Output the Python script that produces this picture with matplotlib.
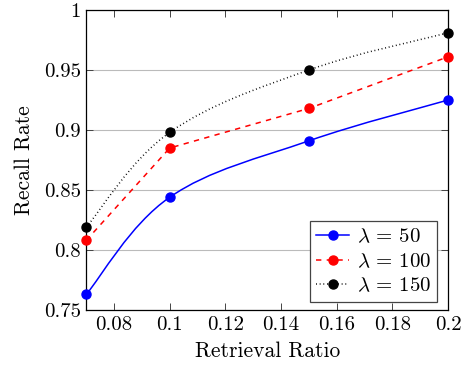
import matplotlib
matplotlib.use('Agg')
import matplotlib.pyplot as plt
import numpy as np
from matplotlib.path import Path
from matplotlib.patches import PathPatch

plt.rcParams['font.family'] = 'serif'
plt.rcParams['font.serif'] = ['cmr10']
plt.rcParams['mathtext.fontset'] = 'cm'
plt.rcParams['axes.formatter.use_mathtext'] = True

# data
ratio = [0.07, 0.1, 0.15, 0.2]
recall_50 = [0.763, 0.844, 0.891, 0.925]
recall_100 = [0.808, 0.885, 0.918, 0.961]
recall_150 = [0.819, 0.898, 0.950, 0.981]


def smooth_path(x, y, tension=0.18):
    '''Bezier path through the points, similar to pgfplots "smooth".'''
    pts = np.column_stack([x, y])
    n = len(pts)
    verts = [pts[0]]
    codes = [Path.MOVETO]
    for i in range(n - 1):
        p0, p1 = pts[i], pts[i + 1]
        prev_ = pts[i - 1] if i > 0 else p0
        next_ = pts[i + 2] if i + 2 < n else p1
        c1 = p0 + tension * (p1 - prev_)
        c2 = p1 - tension * (next_ - p0)
        verts += [c1, c2, p1]
        codes += [Path.CURVE4] * 3
    return Path(verts, codes)


fig, ax = plt.subplots(figsize=(4.61, 3.70), dpi=100)
fig.subplots_adjust(left=0.187, right=0.972, top=0.973, bottom=0.162)

series = [
    (recall_50, 'blue', '-', r'$\lambda\, =\, 50$', True),
    (recall_100, 'red', (0, (3.5, 3.5)), r'$\lambda\, =\, 100$', False),
    (recall_150, 'black', (0, (0.6, 1.8)), r'$\lambda\, =\, 150$', True),
]

for values, color, ls, label, smooth in series:
    if smooth:
        patch = PathPatch(smooth_path(ratio, values), fill=False,
                          edgecolor=color, linestyle=ls, lw=1.1,
                          zorder=3, clip_on=False)
        ax.add_patch(patch)
        ax.plot(ratio, values, linestyle='none', color=color, marker='o',
                markersize=6.5, zorder=4, clip_on=False)
    else:
        ax.plot(ratio, values, linestyle=ls, color=color, lw=1.1,
                marker='o', markersize=6.5, zorder=4, clip_on=False)

# legend handles (line + marker)
handles = [plt.Line2D([], [], color=c, linestyle=ls, lw=1.1, marker='o',
                      markersize=6.5) for _, c, ls, _, _ in series]
labels = [s[3] for s in series]
leg = ax.legend(handles, labels, loc='lower right', fontsize=15,
                frameon=True, fancybox=False, edgecolor='#444444',
                framealpha=1, handlelength=1.6, handletextpad=0.35,
                borderpad=0.3, labelspacing=0.3, borderaxespad=0,
                bbox_to_anchor=(0.97, 0.027))
leg.get_frame().set_linewidth(0.9)

ax.set_xlim(0.07, 0.2)
ax.set_ylim(0.75, 1.0)
ax.set_xticks([0.08, 0.1, 0.12, 0.14, 0.16, 0.18, 0.2])
ax.set_xticklabels(['0.08', '0.1', '0.12', '0.14', '0.16', '0.18', '0.2'])
ax.set_yticks([0.75, 0.8, 0.85, 0.9, 0.95, 1.0])
ax.set_yticklabels(['0.75', '0.8', '0.85', '0.9', '0.95', '1'])
ax.yaxis.grid(True, color='#bbbbbb', lw=0.8)
ax.set_axisbelow(True)
ax.tick_params(direction='in', top=True, right=True, labelsize=15,
               length=5, width=0.7, colors='#444444', labelcolor='black',
               pad=4)
for sp in ax.spines.values():
    sp.set_linewidth(0.9)

ax.set_xlabel('Retrieval Ratio', fontsize=15.5, labelpad=6)
ax.set_ylabel('Recall Rate', fontsize=15.5, labelpad=7)

fig.savefig('out.png', dpi=100)
